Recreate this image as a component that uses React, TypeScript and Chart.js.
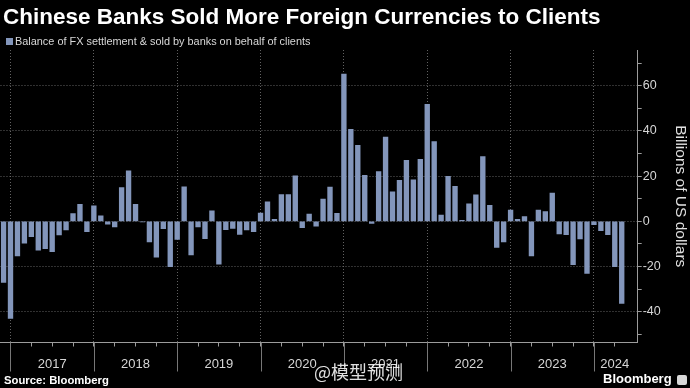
import React, { useEffect, useRef } from 'react';
import { Chart, registerables } from 'chart.js';

Chart.register(...registerables);

const TITLE = 'Chinese Banks Sold More Foreign Currencies to Clients';
const SERIES_LABEL = 'Balance of FX settlement & sold by banks on behalf of clients';
const AXIS_TITLE = 'Billions of US dollars';
const SOURCE = 'Source: Bloomberg';
const BRAND = 'Bloomberg';
const WATERMARK = '@模型预测';

// First bar: November 2016 (month index 10, zero-based)
const FIRST_YEAR = 2016;
const FIRST_MONTH0 = 10;

// Monthly balance, billions of US dollars
const v2016 = [-27.0, -42.9];
const v2017 = [-15.3, -9.7, -6.8, -12.7, -12.1, -13.4, -6.0, -3.8, 3.4, 7.5, -4.6, 6.9];
const v2018 = [2.4, -1.3, -2.5, 14.9, 22.4, 7.5, -0.3, -9.1, -15.9, -3.2, -20.1, -8.0];
const v2019 = [15.3, -14.9, -2.5, -7.7, 4.7, -18.9, -3.7, -3.1, -5.8, -3.8, -4.6, 3.7];
const v2020 = [8.6, 0.9, 11.8, 11.8, 20.1, -2.8, 3.2, -2.1, 9.9, 15.2, 3.5, 65.2];
const v2021 = [40.7, 33.6, 20.4, -0.9, 22.0, 37.3, 13.1, 18.1, 27.0, 18.4, 27.4, 51.8];
const v2022 = [35.3, 2.8, 19.9, 15.5, 0.4, 7.7, 11.7, 28.6, 7.1, -11.5, -9.1, 5.0];
const v2023 = [0.9, 2.1, -15.3, 5.0, 4.3, 12.5, -5.6, -5.9, -19.2, -7.8, -23.0, -1.5];
const v2024 = [-4.1, -5.9, -20.1, -36.3];

const yearLabels = ['2017', '2018', '2019', '2020', '2021', '2022', '2023', '2024'];

const Y_MIN = -53.6;
const Y_MAX = 75.8;
const Y_STEP = 10;
const Y_LABEL_STEP = 20;
const X_PAD_LEFT = 0.44;
const X_PAD_RIGHT = 2.3;

const BAR_COLOR = '#8396bb';
const GRID_COLOR = 'rgba(115,115,115,0.85)';
const AXIS_COLOR = '#9c9c9c';
const TICK_COLOR = '#d6d6d6';
const FONT = "'Liberation Sans', Arial, sans-serif";

const values = [...v2016, ...v2017, ...v2018, ...v2019, ...v2020, ...v2021, ...v2022, ...v2023, ...v2024];
const monthOf = (i: number) => (FIRST_MONTH0 + i) % 12;
const monthLabels = values.map((_, i) => {
  const m = FIRST_MONTH0 + i;
  return `${FIRST_YEAR + Math.floor(m / 12)}-${String((m % 12) + 1).padStart(2, '0')}`;
});
const points = values.map((v, i) => ({ x: i, y: v }));

const X_MIN = -X_PAD_LEFT;
const X_MAX = values.length - 1 + X_PAD_RIGHT;

const quarterTicks = values.map((_, i) => i).filter((i) => monthOf(i) % 3 === 2);
const yearLines = values.map((_, i) => i).filter((i) => monthOf(i) === 11);
const yearLineSet = new Set(yearLines);

const labelAt = new Map<number, string>();
yearLabels.forEach((lab, k) => {
  const start = yearLines[k];
  const end = k + 1 < yearLines.length ? yearLines[k + 1] : X_MAX;
  const mid = (start + end) / 2;
  let best = quarterTicks[0];
  quarterTicks.forEach((q) => {
    if (Math.abs(q - mid) < Math.abs(best - mid)) best = q;
  });
  labelAt.set(best, lab);
});

const yearLinePlugin = {
  id: 'yearLineExtension',
  afterDraw(chart: any) {
    const { ctx, chartArea, scales } = chart;
    const xs = scales.x;
    ctx.save();
    ctx.strokeStyle = '#777777';
    ctx.lineWidth = 1;
    yearLines.forEach((i) => {
      const px = Math.round(xs.getPixelForValue(i)) + 0.5;
      ctx.beginPath();
      ctx.moveTo(px, chartArea.bottom);
      ctx.lineTo(px, chartArea.bottom + 29);
      ctx.stroke();
    });
    ctx.restore();
  },
};

function BarChart() {
  const ref = useRef<HTMLCanvasElement | null>(null);
  useEffect(() => {
    if (!ref.current) return;
    const chart = new Chart(ref.current, {
      type: 'bar',
      data: {
        labels: monthLabels,
        datasets: [
          {
            label: SERIES_LABEL,
            data: points as any,
            backgroundColor: BAR_COLOR,
            borderWidth: 0,
            barThickness: 4.7,
          },
        ],
      },
      options: {
        responsive: false,
        animation: false,
        layout: { padding: { top: 50, left: 0, right: 0, bottom: 0 } },
        plugins: {
          legend: { display: false },
          tooltip: { enabled: false },
          title: { display: false },
        },
        scales: {
          x: {
            type: 'linear',
            position: 'bottom',
            offset: false,
            min: X_MIN,
            max: X_MAX,
            afterBuildTicks: (s: any) => {
              s.ticks = quarterTicks.map((v) => ({ value: v }));
            },
            afterFit: (s: any) => {
              s.height = 45.5;
            },
            grid: {
              offset: false,
              color: (c: any) => (c.tick && yearLineSet.has(c.tick.value) ? GRID_COLOR : 'rgba(0,0,0,0)'),
              lineWidth: 1,
              drawTicks: true,
              tickLength: 4,
              tickColor: AXIS_COLOR,
              tickWidth: 1,
            },
            border: { display: true, color: AXIS_COLOR, width: 1, dash: [1, 2] },
            ticks: {
              autoSkip: false,
              maxRotation: 0,
              minRotation: 0,
              padding: 10.5,
              color: TICK_COLOR,
              font: { family: FONT, size: 13 },
              callback: (v: any) => labelAt.get(Number(v)) ?? '',
            },
          },
          y: {
            position: 'right',
            min: Y_MIN,
            max: Y_MAX,
            afterFit: (s: any) => {
              s.width = 52.3;
            },
            grid: {
              color: (c: any) => (c.tick && c.tick.value % Y_LABEL_STEP === 0 ? GRID_COLOR : 'rgba(0,0,0,0)'),
              lineWidth: 1,
              drawTicks: true,
              tickLength: 4,
              tickColor: AXIS_COLOR,
              tickWidth: 1,
            },
            border: { display: true, color: AXIS_COLOR, width: 1, dash: [1, 2] },
            ticks: {
              stepSize: Y_STEP,
              includeBounds: false,
              padding: 1,
              color: TICK_COLOR,
              font: { family: FONT, size: 12.5 },
              callback: (v: any) => (Number(v) % Y_LABEL_STEP === 0 ? String(v) : ''),
            },
            title: {
              display: true,
              text: AXIS_TITLE,
              color: '#e0e0e0',
              font: { family: FONT, size: 15.5, lineHeight: 1 },
              padding: { top: 1.5, bottom: 0 },
            },
          },
        },
      } as any,
      plugins: [yearLinePlugin],
    });
    return () => chart.destroy();
  }, []);
  return <canvas ref={ref} width={690} height={388} style={{ display: 'block' }} />;
}

export default function App() {
  return (
    <div
      style={{
        position: 'absolute',
        left: 0,
        top: 0,
        width: 690,
        height: 388,
        background: '#000',
        overflow: 'hidden',
        fontFamily: FONT,
      }}
    >
      <BarChart />
      <div
        style={{
          position: 'absolute',
          left: 3,
          top: 6,
          fontSize: 22.5,
          lineHeight: 1,
          fontWeight: 700,
          color: '#ffffff',
          whiteSpace: 'nowrap',
        }}
      >
        {TITLE}
      </div>
      <div
        style={{
          position: 'absolute',
          left: 6,
          top: 37.5,
          width: 7,
          height: 7,
          background: BAR_COLOR,
        }}
      />
      <div
        style={{
          position: 'absolute',
          left: 15,
          top: 36,
          fontSize: 10.9,
          lineHeight: 1,
          color: '#d8d8d8',
          whiteSpace: 'nowrap',
        }}
      >
        {SERIES_LABEL}
      </div>
      <div
        style={{
          position: 'absolute',
          left: 4,
          top: 375,
          fontSize: 11.3,
          lineHeight: 1,
          fontWeight: 700,
          color: '#ffffff',
          whiteSpace: 'nowrap',
        }}
      >
        {SOURCE}
      </div>
      <div
        style={{
          position: 'absolute',
          left: 603,
          top: 372,
          fontSize: 13,
          lineHeight: 1,
          fontWeight: 700,
          color: '#ffffff',
          whiteSpace: 'nowrap',
        }}
      >
        {BRAND}
      </div>
      <div
        style={{
          position: 'absolute',
          left: 677,
          top: 375,
          width: 10,
          height: 10,
          borderRadius: 2,
          background: '#d8d8d8',
        }}
      />
      <div
        style={{
          position: 'absolute',
          left: 314,
          top: 362,
          fontSize: 18,
          lineHeight: 1,
          color: 'rgba(255,255,255,0.88)',
          fontFamily: "'Noto Sans CJK SC', sans-serif",
          whiteSpace: 'nowrap',
        }}
      >
        {WATERMARK}
      </div>
    </div>
  );
}
